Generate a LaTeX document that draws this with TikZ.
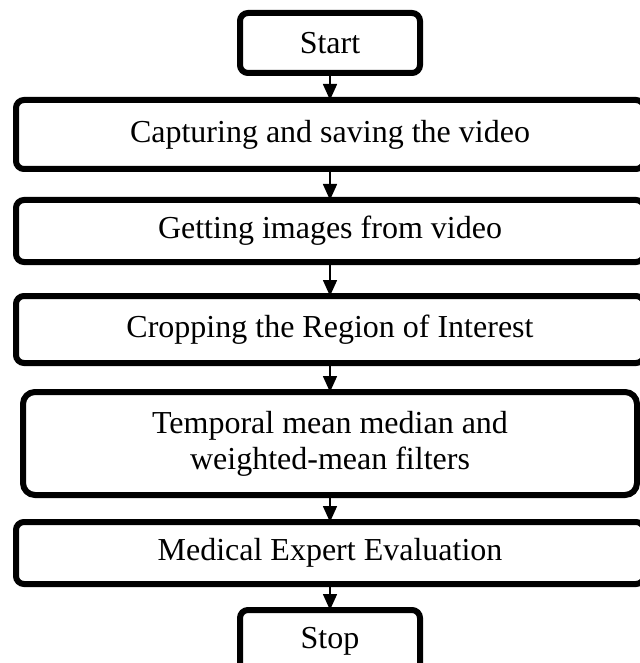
\documentclass[tikz,border=0pt]{standalone}
\usepackage{fontspec}
\setmainfont{Liberation Serif}
\usetikzlibrary{arrows.meta,positioning}

\begin{document}
\begin{tikzpicture}[font=\fontsize{16}{18}\selectfont,
      b/.style={rectangle, rounded corners=4pt, draw, line width=3pt, outer sep=0pt,
                inner sep=0pt, align=center, minimum width=314pt},
      term/.style={b, minimum width=90pt, minimum height=30pt},
      arr/.style={-{Triangle[width=7pt,length=8pt]}, line width=0.8pt}]
    \useasboundingbox (0,0) rectangle (320pt,-331.5pt);
    \clip (0,0) rectangle (320pt,-331.5pt);
    \node[term] (start) at (165pt,-21.5pt) {Start};
    \node[b, minimum height=34.5pt, below=13.5pt of start] (capture) {Capturing and saving the video};
    \node[b, minimum height=31pt, below=15.5pt of capture] (frames) {Getting images from video};
    \node[b, minimum height=33.5pt, below=17pt of frames] (roi) {Cropping the Region of Interest};
    \node[b, rounded corners=6pt, minimum width=307pt, minimum height=51.5pt, below=14.5pt of roi] (filter) {Temporal mean median and\\ weighted-mean filters};
    \node[b, minimum height=31pt, below=13.5pt of filter] (eval) {Medical Expert Evaluation};
    \node[term, minimum height=31pt, below=13pt of eval] (stop) {Stop};
    \draw[arr] (start)--(capture);
    \draw[arr] (capture)--(frames);
    \draw[arr] (frames)--(roi);
    \draw[arr] (roi)--(filter);
    \draw[arr] (filter)--(eval);
    \draw[arr] (eval)--(stop);
  \end{tikzpicture}
\end{document}
